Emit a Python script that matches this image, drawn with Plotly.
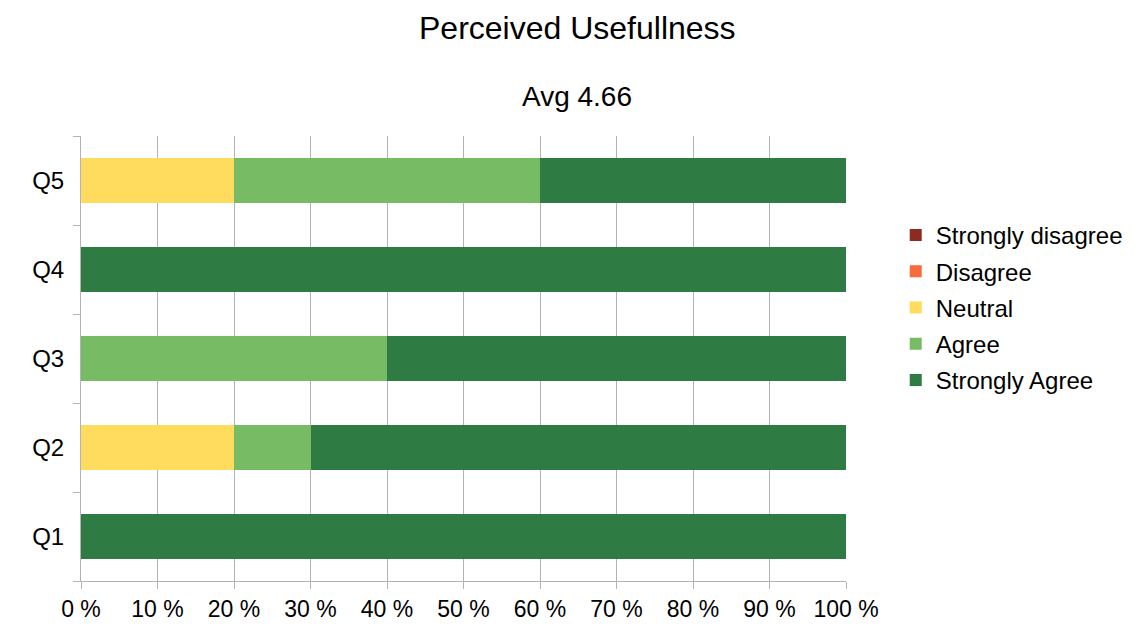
import plotly.graph_objects as go

# Survey questions (bottom to top) and the share of answers per response level
questions = ["Q1", "Q2", "Q3", "Q4", "Q5"]
strongly_disagree = [0.0, 0.0, 0.0, 0.0, 0.0]
disagree = [0.0, 0.0, 0.0, 0.0, 0.0]
neutral = [0.0, 0.2, 0.0, 0.0, 0.2]
agree = [0.0, 0.1, 0.4, 0.0, 0.4]
strongly_agree = [1.0, 0.7, 0.6, 1.0, 0.4]

x_ticks = [i / 10 for i in range(11)]
x_tick_labels = [f"{i * 10} %" for i in range(11)]

series = [
    ("Strongly disagree", strongly_disagree, "#8d2a22"),
    ("Disagree", disagree, "#fa6a3c"),
    ("Neutral", neutral, "#ffdc5e"),
    ("Agree", agree, "#77bc65"),
    ("Strongly Agree", strongly_agree, "#2e7b44"),
]

FONT = "Liberation Sans, Arial, sans-serif"
GRID = "#b3b3b3"

fig = go.Figure()
for name, values, color in series:
    fig.add_trace(go.Bar(
        name=name, y=questions, x=values, orientation="h",
        legendgroup=name,
        marker=dict(color=color, line=dict(width=0)),
    ))

fig.update_layout(
    width=1134, height=626,
    barmode="stack", bargap=0.5,
    margin=dict(l=81, r=288, t=136, b=45, autoexpand=False),
    paper_bgcolor="white", plot_bgcolor="white",
    font=dict(family=FONT, size=23, color="black"),
    showlegend=True,
    legend=dict(
        x=1.065, xanchor="left", y=0.827, yanchor="top",
        traceorder="grouped", tracegroupgap=2, font=dict(size=24),
        bgcolor="rgba(0,0,0,0)", borderwidth=0,
    ),
    annotations=[
        dict(text="Perceived Usefullness", xref="paper", yref="paper",
             x=0.649, y=1.243, xanchor="center", yanchor="middle",
             showarrow=False, font=dict(size=32)),
        dict(text="Avg 4.66", xref="paper", yref="paper",
             x=0.649, y=1.088, xanchor="center", yanchor="middle",
             showarrow=False, font=dict(size=28)),
    ],
)

fig.update_xaxes(
    range=[0, 1], tickvals=x_ticks, ticktext=x_tick_labels,
    showgrid=True, gridcolor=GRID, gridwidth=1,
    showline=True, linecolor=GRID, linewidth=1,
    ticks="outside", ticklen=7, tickcolor=GRID,
    zeroline=False,
)
fig.update_yaxes(
    categoryorder="array", categoryarray=questions,
    showgrid=False, showline=True, linecolor=GRID, linewidth=1,
    ticks="outside", tickson="boundaries", ticklen=7, tickcolor=GRID,
    ticklabelstandoff=11, tickfont=dict(size=24),
)

fig.write_html("out.html")
